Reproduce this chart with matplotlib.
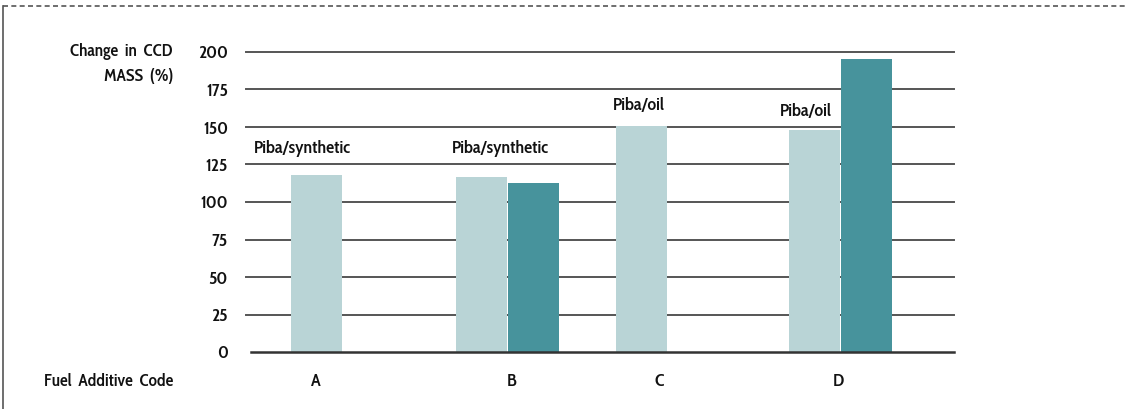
import matplotlib.pyplot as plt
from matplotlib.lines import Line2D

# values
categories = ['A', 'B', 'C', 'D']
light_vals = [118, 116.5, 150.5, 148]
dark_vals = [None, 112.5, None, 195.5]
bar_notes = ['Piba/synthetic', 'Piba/synthetic', 'Piba/oil', 'Piba/oil']
yticks = [0, 25, 50, 75, 100, 125, 150, 175, 200]

LIGHT = '#b9d4d6'
DARK = '#47939c'
TXT = '#111111'

plt.rcParams['font.family'] = ['Cabin Condensed', 'DejaVu Sans']
plt.rcParams['font.weight'] = 'semibold'

fig = plt.figure(figsize=(11.27, 4.09), dpi=100)
W, H = 1127, 409
ax = fig.add_axes([246 / W, (H - 352) / H, (954 - 246) / W, 300 / H])
ax.set_xlim(246, 954)
ax.set_ylim(0, 200)

# group layout in pixel-like units along x
group_centers = [316, 507, 641, 840]
tick_pos = [316, 512, 659, 838]
bw = 51

for i, c in enumerate(group_centers):
    if dark_vals[i] is None:
        x_light = c
    else:
        x_light = c - bw / 2 - 0.5
        ax.bar(c + bw / 2 + 0.5, dark_vals[i], width=bw, color=DARK, zorder=3)
    ax.bar(x_light, light_vals[i], width=bw, color=LIGHT, zorder=3)

# notes above the groups
note_x = [302, 500, 639, 806]
note_y = [130, 130, 159, 155]
for x, y, t in zip(note_x, note_y, bar_notes):
    ax.text(x, y, t, ha='center', va='bottom', fontsize=13, color=TXT)

# gridlines
for y in yticks[1:]:
    ax.axhline(y, color='#555555', linewidth=1.4, zorder=1, clip_on=False)
ax.plot([251, 954], [0, 0], color='#333333', linewidth=1.8, zorder=4, clip_on=False)

for s in ax.spines.values():
    s.set_visible(False)
ax.set_yticks(yticks)
ax.set_yticklabels([str(y) for y in yticks], fontsize=13, color=TXT)
ax.tick_params(axis='y', length=0, pad=13)
ax.set_xticks(tick_pos)
ax.set_xticklabels(categories, fontsize=13, color=TXT)
ax.tick_params(axis='x', length=0, pad=15)

fig.text(173 / W, 1 - 52 / H, 'Change  in  CCD', ha='right', va='center', fontsize=12.5, color=TXT)
fig.text(173 / W, 1 - 77 / H, 'MASS  (%)', ha='right', va='center', fontsize=12.5, color=TXT)
fig.text(173 / W, 1 - 381 / H, 'Fuel  Additive  Code', ha='right', va='center', fontsize=12.5, color=TXT)

# box frame: dashed top, solid left
fig.add_artist(Line2D([3 / W, 1], [1 - 6 / H, 1 - 6 / H], color='#555555', linewidth=1.2,
                      linestyle=(0, (3, 2))))
fig.add_artist(Line2D([3 / W, 3 / W], [0, 1 - 6 / H], color='#555555', linewidth=1.2))

fig.savefig('out.png', dpi=100)
